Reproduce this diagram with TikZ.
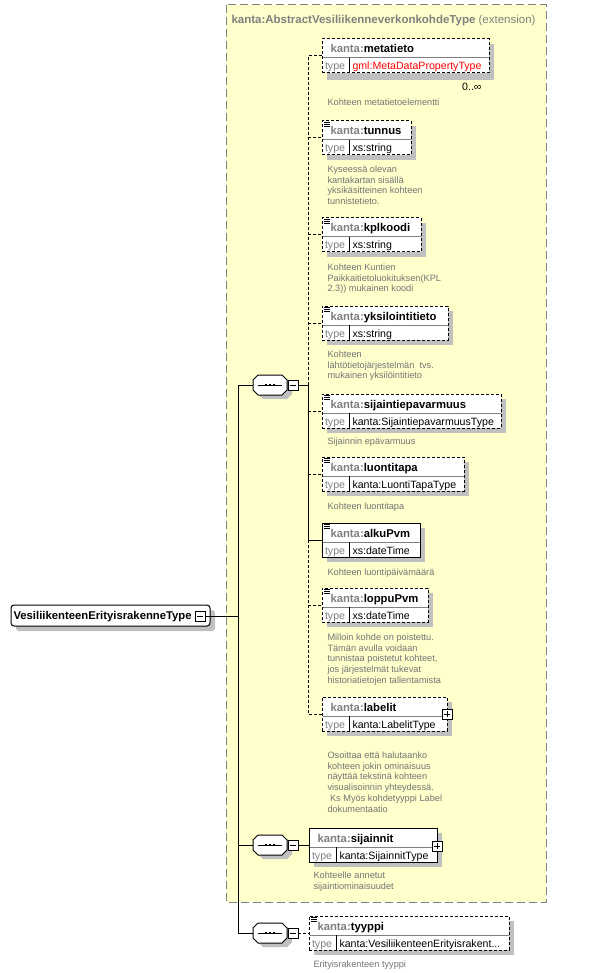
\documentclass[tikz,border=0pt]{standalone}
\usepackage{fontspec}
\setmainfont{Liberation Sans}
\usetikzlibrary{calc}
\definecolor{yel}{HTML}{FFFFCC}
\definecolor{gr}{HTML}{808080}
\definecolor{dgr}{HTML}{747474}
\definecolor{shad}{HTML}{C0C0C0}
\definecolor{tred}{HTML}{FF0000}
\tikzset{
 optb/.style={dash pattern=on 3pt off 2pt},
 reqb/.style={solid},
 elbox/.style={draw,fill=white,minimum height=34,inner sep=0,outer sep=0},
 namet/.style={anchor=base west,inner sep=0,font=\fontsize{11.3}{13}\selectfont\bfseries},
 typet/.style={anchor=base west,inner sep=0,font=\fontsize{10.6}{12}\selectfont},
 desct/.style={anchor=north west,inner sep=0,align=left,text=dgr,font=\fontsize{9.2}{10.8}\selectfont},
 pmbox/.style={draw,fill=white,minimum size=10,inner sep=0,outer sep=0},
}
\newcommand\XEl[8]{%
 \fill[shad] ($(#2,#3)+(5,5)$) rectangle ++(#4,34);
 \node[elbox,#7,minimum width=#4,anchor=north west] (#1) at (#2,#3) {};
 \draw[gr] ($(#1.north west)+(0.5,19)$) -- ($(#1.north east)+(-0.5,19)$);
 \draw ($(#1.north west)+(27,19)$) -- ($(#1.north west)+(27,34)$);
 \node[namet] (#1-n) at ($(#1.north west)+(8,14)$) {\textcolor{gr}{kanta:}#5};
 \node[typet,text=gr] (#1-tl) at ($(#1.north west)+(2.5,31)$) {type};
 \node[typet] (#1-tv) at ($(#1.north west)+(30,31)$) {#6};
 \ifnum#8=1
  \foreach \k in {1,3,5} \draw[line width=0.8pt] ($(#1.north west)+(2,\k)$) -- ++(5.5,0);
 \fi
}
\newcommand\XDs[4]{\node[desct] (#1) at (#2,#3-6.8) {#4};}
\newcommand\XSeq[2]{%
 \begin{scope}[shift={(253,#2-10)}]
  \fill[shad] (10,4)--(34,4)--(39,9)--(39,19)--(34,24)--(10,24)--(5,19)--(5,9)--cycle;
  \draw[fill=white] (5,0)--(29,0)--(34,5)--(34,15)--(29,20)--(5,20)--(0,15)--(0,5)--cycle;
  \draw (5,10)--(29,10);
  \foreach \k in {12.8,17,21.2} \fill (\k-1.2,8.7) rectangle ++(2.4,2.6);
 \end{scope}
 \node[inner sep=0,outer sep=0,minimum width=34,minimum height=20] (#1) at (270,#2) {};
 \node[pmbox] (#1m) at (293,#2) {};
 \draw ($(#1m.center)+(-3,0)$) -- ($(#1m.center)+(3,0)$);
}
\newcommand\XPlus[3]{%
 \node[pmbox] (#1) at (#2,#3) {};
 \draw ($(#1.center)+(-3,0)$) -- ++(6,0);
 \draw ($(#1.center)+(0,-3)$) -- ++(0,6);
}
\begin{document}
\begin{tikzpicture}[x=1pt,y=-1pt,line width=1pt]
\useasboundingbox (0,0) rectangle (589,973);
\fill[white] (0,0) rectangle (589,973);
% extension area
\draw[gr,fill=yel,dash pattern=on 8pt off 4pt] (226,5) rectangle (546,902);
\node[anchor=base west,inner sep=0,text=gr,font=\fontsize{11.5}{13}\selectfont] (title) at (231,23.3) {\textbf{kanta:AbstractVesiliikenneverkonkohdeType} (extension)};
% main element
\fill[shad,rounded corners=3] (16,610) rectangle (215,631);
\node[draw,fill=white,rounded corners=3,minimum width=199,minimum height=21,anchor=north west,inner sep=0,outer sep=0] (main) at (11,605) {};
\node[namet] (main-n) at (13,619.3) {VesiliikenteenErityisrakenneType};
\node[pmbox] (mainm) at (200,616) {};
\draw ($(mainm.center)+(-3,0)$) -- ($(mainm.center)+(3,0)$);
% sequences
\XSeq{s1}{385}
\XSeq{s2}{845}
\XSeq{s3}{933}
% elements
\fill[shad] (327,45) rectangle (494,80);
\XEl{metatieto}{322}{39}{167}{metatieto}{\textcolor{tred}{gml:MetaDataPropertyType}}{optb}{0}
\node[anchor=base east,inner sep=0,font=\fontsize{10.6}{12}\selectfont] (mult) at (482,91) {0..\char"221E};
\XEl{tunnus}{322}{121}{89}{tunnus}{xs:string}{optb}{1}
\XEl{kplkoodi}{322}{218}{99}{kplkoodi}{xs:string}{optb}{1}
\XEl{yksilointitieto}{322}{306}{126}{yksilointitieto}{xs:string}{optb}{1}
\XEl{sijaintiepavarmuus}{322}{394}{179}{sijaintiepavarmuus}{kanta:SijaintiepavarmuusType}{optb}{1}
\XEl{luontitapa}{322}{457}{142}{luontitapa}{kanta:LuontiTapaType}{optb}{1}
\XEl{alkuPvm}{322}{523}{98}{alkuPvm}{xs:dateTime}{reqb}{1}
\XEl{loppuPvm}{322}{588}{106}{loppuPvm}{xs:dateTime}{optb}{1}
\XEl{labelit}{322}{697}{125}{labelit}{kanta:LabelitType}{optb}{0}
\XPlus{labelitp}{447}{714}
\XEl{sijainnit}{309}{828}{128}{sijainnit}{kanta:SijainnitType}{reqb}{0}
\XPlus{sijainnitp}{437}{846}
\XEl{tyyppi}{309}{916}{200}{tyyppi}{kanta:VesiliikenteenErityisrakent...}{optb}{1}
% descriptions
\XDs{d-metatieto}{327}{105}{Kohteen metatietoelementti}
\XDs{d-tunnus}{327}{172}{Kyseessä olevan\\kantakartan sisällä\\yksikäsitteinen kohteen\\tunnistetieto.}
\XDs{d-kplkoodi}{327}{270}{Kohteen Kuntien\\Paikkaitietoluokituksen(KPL\\2.3)) mukainen koodi}
\XDs{d-yksilointitieto}{327}{357}{Kohteen\\lähtötietojärjestelmän\ \ tvs.\\mukainen yksilöintitieto}
\XDs{d-sijaintiepavarmuus}{327}{444}{Sijainnin epävarmuus}
\XDs{d-luontitapa}{327}{509}{Kohteen luontitapa}
\XDs{d-alkuPvm}{327}{575}{Kohteen luontipäivämäärä}
\XDs{d-loppuPvm}{327}{640}{Milloin kohde on poistettu.\\Tämän avulla voidaan\\tunnistaa poistetut kohteet,\\jos järjestelmät tukevat\\historiatietojen tallentamista}
\XDs{d-labelit}{327}{758}{Osoittaa että halutaanko\\kohteen jokin ominaisuus\\näyttää tekstinä kohteen\\visualisoinnin yhteydessä.\\\hspace*{2.6pt}Ks Myös kohdetyyppi Label\\dokumentaatio}
\XDs{d-sijainnit}{313}{878}{Kohteelle annetut\\sijaintiominaisuudet}
\XDs{d-tyyppi}{313}{967}{Erityisrakenteen tyyppi}
% connectors
\coordinate (lsp) at (238,0);
\coordinate (rsp) at (308,0);
\draw (mainm.east) -- (mainm.east -| lsp);
\draw (s1.west) -- (s1.west -| lsp) -- (s3.west -| lsp) -- (s3.west);
\draw (s2.west) -- (s2.west -| lsp);
\draw[optb] (metatieto.west) -- (metatieto.west -| rsp) -- (s1m.east -| rsp);
\draw (s1m.east) -- (s1m.east -| rsp) -- (alkuPvm.west -| rsp) -- (alkuPvm.west);
\draw[optb] (alkuPvm.west -| rsp) -- (labelit.west -| rsp) -- (labelit.west);
\foreach \e in {tunnus,kplkoodi,yksilointitieto,sijaintiepavarmuus,luontitapa,loppuPvm}
  \draw[optb] (\e.west -| rsp) -- (\e.west);
\draw (s2m.east) -- (sijainnit.west);
\draw[optb] (s3m.east) -- (tyyppi.west);
\end{tikzpicture}
\end{document}
